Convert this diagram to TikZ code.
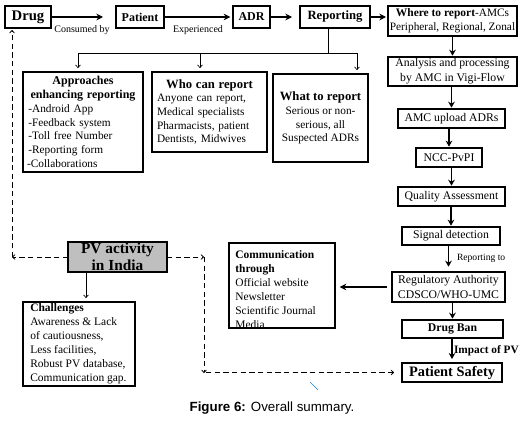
\documentclass[tikz,border=0pt]{standalone}
\usepackage{fontspec}
\setmainfont{Liberation Serif}
\newfontfamily\capfont{Liberation Sans}
\usetikzlibrary{arrows.meta}
\newcommand\mybox[7]{\node[#2, minimum width={(#5-#3)*0.75pt}, minimum height={(#6-#4)*0.75pt}] (#1) at ({(#3+#5)/2},{(#4+#6)/2}) {#7};}
\begin{document}
\begin{tikzpicture}[x=0.75pt,y=-0.75pt,
  every node/.style={inner sep=0pt, outer sep=0pt},
  topbox/.style={draw, line width=1.5pt, align=center, font=\fontsize{9}{11}\selectfont\bfseries},
  colbox/.style={draw, line width=1.1pt, align=center, font=\fontsize{8.8}{11}\selectfont},
  infobox/.style={draw, line width=1.5pt, font=\fontsize{8.5}{10.3}\selectfont},
  lbl/.style={font=\fontsize{7.5}{9}\selectfont},
  bigarrow/.style={line width=1.5pt, -{Stealth[length=5pt,width=5pt]}},
  colarrow/.style={line width=1.4pt, -{Stealth[length=4.5pt,width=5pt]}},
  thinline/.style={line width=0.5pt},
  thinarrow/.style={line width=0.5pt, -{To[length=2.5pt,width=4pt]}},
  dasharrow/.style={line width=0.6pt, dash pattern=on 4pt off 2.5pt, -{To[length=2.5pt,width=4pt]}}
]
\useasboundingbox (0,0) rectangle (525,421);

% top row
\mybox{drug}{topbox, font=\fontsize{11}{13}\selectfont\bfseries}{5}{6}{51}{28}{Drug}
\mybox{patient}{topbox}{116}{6}{164}{28}{Patient}
\mybox{adr}{topbox}{233}{6}{270}{28}{ADR}
\mybox{reporting}{topbox, font=\fontsize{9.5}{11}\selectfont\bfseries}{300}{6}{370}{28}{Reporting}
\mybox{where}{topbox, font=\fontsize{8.5}{10.5}\selectfont}{388}{6}{517}{36}{\textbf{\fontsize{8.6}{10.5}\selectfont Where to report}-AMCs\\Peripheral, Regional, Zonal}

\node[lbl] (consumed) at (82,30) {Consumed by};
\node[lbl] (experienced) at (198,30) {Experienced};

\draw[bigarrow, shorten >=9.75pt] (drug) -- (patient);
\draw[bigarrow, shorten >=2pt] (patient) -- (adr);
\draw[bigarrow, shorten >=6pt] (adr) -- (reporting);
\draw[bigarrow, shorten >=1.5pt] (reporting.east) -- (reporting.east -| where.west);

% right column
\mybox{analysis}{colbox}{388}{57}{517}{86}{Analysis and processing\\by AMC in Vigi-Flow}
\mybox{amc}{colbox}{398}{109}{505}{128}{AMC upload ADRs}
\mybox{ncc}{colbox}{416}{148}{482}{167}{NCC-PvPI}
\mybox{qa}{colbox}{398}{187}{505}{206}{Quality Assessment}
\mybox{signal}{colbox}{402}{227}{500}{245}{Signal detection}
\mybox{reg}{colbox}{392}{272}{505}{302}{Regulatory Authority\\CDSCO/WHO-UMC}
\mybox{ban}{colbox, font=\fontsize{8.8}{11}\selectfont\bfseries}{402}{320}{503}{338}{Drug Ban}
\mybox{safety}{colbox, font=\fontsize{10.8}{12}\selectfont\bfseries}{402}{363}{502}{382}{Patient Safety}

\draw[colarrow, shorten >=1pt] (where.south -| analysis.north) -- (analysis.north);
\draw[colarrow, shorten >=1pt] (analysis.south -| amc.north) -- (amc.north);
\draw[colarrow, shorten >=1pt] (amc.south -| ncc.north) -- (ncc.north);
\draw[colarrow, shorten >=1pt] (ncc.south -| qa.north) -- (qa.north);
\draw[colarrow, shorten >=1pt] (qa.south -| signal.north) -- (signal.north);
\draw[colarrow, shorten >=4pt] (signal.south -| reg.north) -- (reg.north);
\draw[colarrow, shorten >=1pt] (reg.south -| ban.north) -- (ban.north);
\draw[colarrow, shorten >=3pt] (ban.south -| safety.north) -- (safety.north);

\node[lbl, anchor=west, font=\fontsize{7.2}{9}\selectfont] (repto) at (457,258) {Reporting to};
\node[lbl, anchor=west, font=\fontsize{8.5}{10}\selectfont\bfseries] (impact) at (454,351) {Impact of PV};

% reporting branches
\coordinate (bj) at (328,53);
\coordinate (bl) at (78,53);
\coordinate (bm) at (200,53);
\coordinate (br) at (357,53);
\draw[thinline] (reporting.south -| bj) -- (bj);
\draw[thinline] (bl) -- (br);

\mybox{appr}{infobox, align=left, text width=84pt}{23}{72}{143}{172}{{\centering\fontsize{9}{10.3}\selectfont\bfseries Approaches\\enhancing reporting\par}\leftskip=1pt -Android App\\-Feedback system\\-Toll free Number\\-Reporting form\\-Collaborations}
\mybox{who}{infobox, align=left, text width=78.75pt}{152}{72}{267}{152}{{\centering\fontsize{9.5}{10.3}\selectfont\bfseries Who can report\par}Anyone can report,\\Medical specialists\\Pharmacists, patient\\Dentists, Midwives}
\mybox{what}{infobox, align=center}{273}{74}{368}{162}{{\fontsize{9.5}{10.3}\selectfont\bfseries What to report}\\Serious or non-\\serious, all\\Suspected ADRs}

\draw[thinarrow, shorten >=3pt] (bl) -- (appr.north -| bl);
\draw[thinarrow, shorten >=3pt] (bm) -- (who.north -| bm);
\draw[thinarrow, shorten >=3pt] (br) -- (what.north -| br);

% communication
\mybox{comm}{infobox, align=left}{229}{243}{335}{328}{\hspace*{3pt}\parbox[c][61pt][t]{73pt}{\vspace*{4pt}\fontsize{8.6}{10.5}\selectfont\textbf{Communication}\\\textbf{through}\\Official website\\Newsletter\\Scientific Journal\\Media}}
\draw[bigarrow, shorten <=3.5pt, shorten >=3.5pt] (reg.west) -- (reg.west -| comm.east);

% PV activity
\mybox{pv}{draw, line width=1.5pt, fill=gray!50, align=center, font=\fontsize{11.5}{13}\selectfont\bfseries}{68}{242}{167}{272}{PV activity\\in India}
\mybox{chal}{draw, line width=1.2pt, align=left}{23}{302}{135}{386}{\hspace*{4pt}\parbox{77pt}{\raggedright\fontsize{8.6}{10.5}\selectfont\textbf{Challenges}\\Awareness \& Lack\\of cautiousness,\\Less facilities,\\Robust PV database,\\Communication gap.}}

\coordinate (pc) at (86,0);
\draw[thinarrow, shorten >=3pt] (pv.south -| pc) -- (chal.north -| pc);

\coordinate (c1) at (12,257);
\draw[dasharrow] (pv.west) -- (c1);
\draw[dasharrow, shorten >=1.5pt] (c1) -- (drug.south -| c1);

\coordinate (c2) at (204,257);
\coordinate (c3) at (204,373);
\coordinate (c4) at (206,372.5);
\draw[dasharrow] (pv.east) -- (c2);
\draw[dasharrow] (c2) -- (c3);
\draw[dasharrow, shorten >=6pt] (c4) -- (safety.west);

\draw[cyan!70!blue, line width=0.5pt] (310,382) -- (318,390);

% caption
\node[font=\capfont\fontsize{10}{12}\selectfont] (caption) at (272,408) {\textbf{Figure 6:} Overall summary.};
\end{tikzpicture}
\end{document}
